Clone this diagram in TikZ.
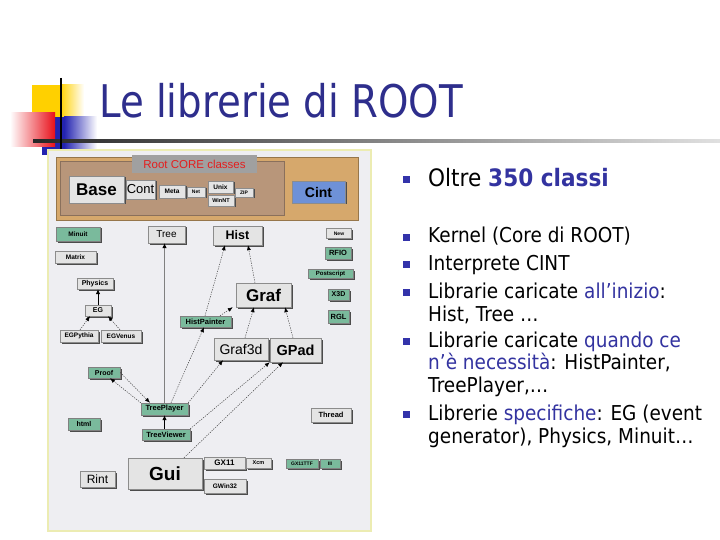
\documentclass[tikz,border=0pt]{standalone}
\usepackage{fontspec}
\setmainfont{DejaVu Sans}
\newfontfamily\bodyfont{DejaVu Sans}[FakeStretch=0.9]
\newfontfamily\titlefont{DejaVu Sans}[FakeStretch=0.86]
\newfontfamily\diagfont{Liberation Sans}
\usetikzlibrary{arrows.meta,calc}
\definecolor{titleblue}{RGB}{46,46,140}
\definecolor{accent}{RGB}{51,51,160}
\definecolor{bulletblue}{RGB}{51,51,170}
\definecolor{grayfill}{RGB}{228,228,228}
\definecolor{greenfill}{RGB}{122,186,156}
\definecolor{tanfill}{RGB}{214,168,108}
\definecolor{brownin}{RGB}{184,150,122}
\definecolor{cintblue}{RGB}{110,145,215}
\definecolor{panel}{RGB}{238,238,242}
\definecolor{panelborder}{RGB}{236,236,178}
\definecolor{corelabel}{RGB}{160,160,160}
\definecolor{corered}{RGB}{228,30,30}
\definecolor{yellowdeco}{RGB}{255,208,0}
\definecolor{bluedeco}{RGB}{35,35,176}
\definecolor{reddeco}{RGB}{232,16,26}
\newcommand\libnode[6]{\node[#1,minimum width=#4,minimum height=#5] (#2) at (#3) {#6};}
\begin{document}
\begin{tikzpicture}[x=1pt,y=-1pt,
  lib/.style={draw=black!45, line width=0.4pt, inner sep=0pt, fill=grayfill, text=black,
    preaction={fill=black!70, draw=none, transform canvas={xshift=1.5pt,yshift=-1.5pt}}},
  glib/.style={lib, fill=greenfill, draw=black!50},
  fs/.style={font=\diagfont\bfseries\fontsize{#1}{#1}\selectfont},
  fr/.style={font=\diagfont\fontsize{#1}{#1}\selectfont},
  dep/.style={black!75, line width=0.5pt, dash pattern=on 1.2pt off 1.2pt,
    -{Latex[length=5pt,width=4pt,black]}},
  solidarr/.style={black!50, line width=0.8pt, -{Latex[length=5pt,width=4.5pt,black]}},
  blackarr/.style={black, line width=0.8pt, -{Latex[length=5pt,width=4.5pt,black]}},
  txt/.style={anchor=base west, inner sep=0pt, font=\bodyfont\fontsize{20.5}{20.5}\selectfont},
  bul/.style={fill=bulletblue}
]
\useasboundingbox (0,0) rectangle (720,540);
\fill[white] (0,0) rectangle (720,540);

% decorations
\fill[yellowdeco] (32,85) rectangle (60,117);
\shade[left color=yellowdeco,right color=white] (60,85) rectangle (84,117);
\fill[bluedeco] (42,117) rectangle (64,155);
\shade[left color=bluedeco,right color=white] (64,117) rectangle (97,155);
\shade[left color=white,right color=reddeco] (10,113) rectangle (55,147);
\shade[left color=black!85,right color=black!12] (33,139.8) rectangle (720,142.3);
\draw[black, line width=2pt] (61,78) -- (61,151);

% title
\node[anchor=base west, inner sep=0pt, text=titleblue, font=\titlefont\fontsize{45}{45}\selectfont] (title) at (99,118) {Le librerie di ROOT};

% panel
\fill[panel] (48,150) rectangle (371,531);
\draw[panelborder, line width=1.6pt] (48,150) rectangle (371,531);

% core block
\fill[tanfill] (56,157) rectangle (358,220);
\draw[tanfill!70!black, line width=0.6pt] (56,157) rectangle (358,220);
\fill[brownin] (60,161) rectangle (284,215);
\draw[brownin!75!black, line width=0.6pt] (60,161) rectangle (284,215);
\node[fill=corelabel, inner sep=0pt, minimum width=125, minimum height=18, text=corered, fr=11.5] (corelbl) at (194.5,164.5) {Root CORE classes};

\libnode{lib,fs=17}{base}{96.5,189.5}{55}{27}{Base}
\libnode{lib,fr=13}{cont}{140.5,189.5}{29}{19}{Cont}
\libnode{lib,fs=6.5}{meta}{172,191.5}{26}{13}{Meta}
\libnode{lib,fs=5}{net}{196,192}{18}{10}{Net}
\libnode{lib,fs=6.5}{unix}{220.5,187}{25}{12}{Unix}
\libnode{lib,fs=5.5}{winnt}{221,200.5}{26}{11}{WinNT}
\libnode{lib,fs=5}{zip}{244,192.5}{18}{9}{ZIP}
\libnode{lib,fill=cintblue,fs=14}{cint}{318.5,192}{53}{22}{Cint}

\libnode{glib,fs=6.5}{minuit}{78,234}{44}{14}{Minuit}
\libnode{lib,fr=10}{tree}{166.5,234.5}{37}{17}{Tree}
\libnode{lib,fs=12.5}{hist}{237.5,235.5}{49}{19}{Hist}
\libnode{lib,fs=5}{new}{339,233.5}{25}{10}{New}
\libnode{lib,fs=6.5}{matrix}{75.5,257}{41}{12}{Matrix}
\libnode{lib,fs=7}{physics}{95,283.5}{36}{11}{Physics}
\libnode{lib,fs=7}{eg}{98,310.5}{26}{11}{EG}
\libnode{lib,fs=6.5}{egpythia}{79,336}{38}{12}{EGPythia}
\libnode{lib,fs=6.5}{egvenus}{121,336}{40}{12}{EGVenus}
\libnode{glib,fs=7.5}{histpainter}{205.5,321.5}{51}{11}{HistPainter}
\libnode{lib,fs=17}{graf}{263.5,295}{55}{24}{Graf}
\libnode{glib,fs=7.5}{rfio}{338,253}{26}{12}{RFIO}
\libnode{glib,fs=6}{postscript}{330.5,273.5}{45}{9}{Postscript}
\libnode{glib,fs=7}{x3d}{338.5,294.5}{21}{11}{X3D}
\libnode{glib,fs=7.5}{rgl}{338.5,316.5}{21}{13}{RGL}
\libnode{lib,fr=14}{graf3d}{241,349}{54}{22}{Graf3d}
\libnode{lib,fs=14.5}{gpad}{295.5,350}{51}{24}{GPad}
\libnode{glib,fs=7}{proof}{104,372.5}{32}{11}{Proof}
\libnode{glib,fs=7.5}{treeplayer}{164.5,409}{47}{12}{TreePlayer}
\libnode{glib,fs=7.5}{treeviewer}{166,434.5}{48}{11}{TreeViewer}
\libnode{glib,fs=7}{html}{84,424}{32}{12}{html}
\libnode{lib,fs=7.5}{thread}{331,415}{40}{14}{Thread}
\libnode{lib,fs=19}{gui}{165,473.5}{74}{31}{Gui}
\libnode{lib,fr=12}{rint}{97.5,479}{35}{16}{Rint}
\libnode{lib,fs=8}{gx11}{224.5,463}{41}{12}{GX11}
\libnode{lib,fs=5.5}{xcm}{258.5,463}{25}{10}{Xcm}
\libnode{glib,fs=5}{gx11ttf}{302,463.5}{32}{9}{GX11TTF}
\libnode{glib,fs=5}{iii}{330,463.5}{20}{9}{III}
\libnode{lib,fs=6.5}{gwin32}{225,486}{42}{14}{GWin32}

% connectors
\draw[solidarr] (treeplayer.north) -- (treeplayer.north |- tree.south);
\draw[dep] ([xshift=-0.5pt]histpainter.north) -- ([xshift=-12.5pt]hist.south);
\draw[dep] ([xshift=-8.5pt]graf.north) -- ([xshift=10.5pt]hist.south);
\draw[dep] ([xshift=14.5pt]histpainter.north) -- ([xshift=-3pt]graf.south west);
\draw[dep] ([xshift=4pt]graf3d.north) -- ([xshift=-9.5pt]graf.south);
\draw[dep] ([xshift=-2.5pt]gpad.north) -- ([xshift=21.5pt]graf.south);
\draw[blackarr] (eg.north) -- (eg.north |- physics.south);
\draw[dep] ([xshift=1pt]egpythia.north) -- ([xshift=-8pt]eg.south);
\draw[dep] ([xshift=-1pt]egvenus.north) -- ([xshift=10pt]eg.south);
\draw[dep] ([xshift=6.5pt]treeplayer.north) -- ([xshift=-1.5pt]histpainter.south);
\draw[dep] (treeplayer.north east) -- ([xshift=-18pt]graf3d.south);
\draw[dep] (treeviewer.north east) -- (gpad.south west);
\draw[dep] ([xshift=19pt]gui.north) -- ([xshift=-12.5pt]gpad.south);
\draw[dep] (treeplayer.north west) -- ([xshift=6pt]proof.south);
\draw[dep] (proof.east) -- ([xshift=-14.5pt]treeplayer.north);
\draw[blackarr] ([xshift=-1.5pt]treeviewer.north) -- (treeplayer.south);

% bullets
\foreach \yy in {180,237,264,292,341,414}{\fill[bul] (402.5,\yy-3.5) rectangle (409.5,\yy+3.5);}
\node[anchor=base west, inner sep=0pt, font=\bodyfont\fontsize{24}{24}\selectfont] (l1) at (428,187) {Oltre \textcolor{accent}{\bfseries 350 classi}};
\node[txt] (l2) at (428,243) {Kernel (Core di ROOT)};
\node[txt] (l3) at (428,270) {Interprete CINT};
\node[txt] (l4) at (428,298) {Librarie caricate \textcolor{accent}{all’inizio}:};
\node[txt] (l5) at (428,321) {Hist, Tree …};
\node[txt] (l6) at (428,347) {Librarie caricate \textcolor{accent}{quando ce}};
\node[txt] (l7) at (428,369) {\textcolor{accent}{n’è necessità}: HistPainter,};
\node[txt] (l8) at (428,392) {TreePlayer,…};
\node[txt] (l9) at (428,420) {Librerie \textcolor{accent}{specifiche}: EG (event};
\node[txt] (l10) at (428,443) {generator), Physics, Minuit…};
\end{tikzpicture}
\end{document}
